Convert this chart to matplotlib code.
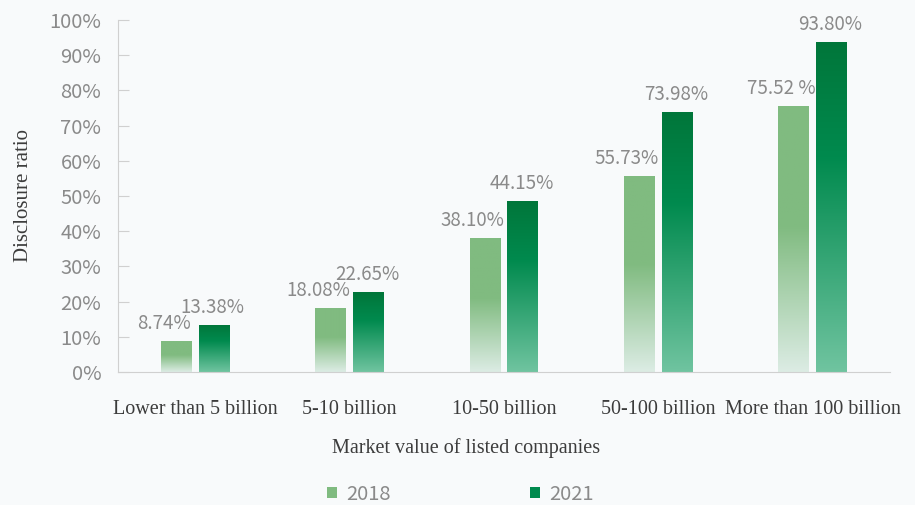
import matplotlib
matplotlib.use("Agg")
import matplotlib.pyplot as plt
import numpy as np
from matplotlib.colors import LinearSegmentedColormap
from matplotlib.patches import Patch

# data
categories = ["Lower than 5 billion", "5-10 billion", "10-50 billion",
              "50-100 billion", "More than 100 billion"]
vals_2018 = [8.74, 18.08, 38.10, 55.73, 75.52]
vals_2021 = [13.38, 22.65, 48.6, 73.98, 93.80]   # 10-50 bar is drawn taller than its label
labels_2018 = ["8.74%", "18.08%", "38.10%", "55.73%", "75.52 %"]
labels_2021 = ["13.38%", "22.65%", "44.15%", "73.98%", "93.80%"]

bg = "#f8fafb"
sans = ["Noto Sans CJK SC", "DejaVu Sans"]
serif = "Liberation Serif"
grey = "#8a8a8a"
dark = "#3c3c3c"

cmap18 = LinearSegmentedColormap.from_list("c18", [(0, "#dcece4"), (0.55, "#80bb80"), (1, "#80bb80")])
cmap21 = LinearSegmentedColormap.from_list("c21", [(0, "#70c4a0"), (0.65, "#008a4e"), (1, "#00763a")])

fig = plt.figure(figsize=(9.15, 5.05), dpi=100, facecolor=bg)
ax = fig.add_axes([118/915, 1-372/505, (890-118)/915, (372-20)/505])
ax.set_facecolor(bg)

x = np.arange(len(categories))
w = 0.2
off = 0.1225

bars18 = ax.bar(x - off, vals_2018, w, color="none", zorder=2)
bars21 = ax.bar(x + off, vals_2021, w, color="none", zorder=2)

# vertical gradient inside each bar
grad = np.linspace(1, 0, 256).reshape(-1, 1)
for bars, cm in ((bars18, cmap18), (bars21, cmap21)):
    for b in bars:
        x0, y0 = b.get_x(), b.get_y()
        im = ax.imshow(grad, cmap=cm, vmin=0, vmax=1, aspect="auto",
                       extent=[x0, x0 + b.get_width(), y0, y0 + b.get_height()],
                       origin="upper", zorder=2)
        im.set_clip_path(b)

for b, t in zip(bars18, labels_2018):
    ax.annotate(t, (b.get_x() + b.get_width()/2, b.get_height()), xytext=(-9, 5),
                textcoords="offset points", ha="center", va="bottom",
                fontsize=13.5, color=grey, family=sans)
for b, t in zip(bars21, labels_2021):
    ax.annotate(t, (b.get_x() + b.get_width()/2, b.get_height()), xytext=(-1, 5),
                textcoords="offset points", ha="center", va="bottom",
                fontsize=13.5, color=grey, family=sans)

ax.set_xlim(-0.5, len(categories) - 0.5)
ax.set_ylim(0, 100)
ax.set_yticks(np.arange(0, 101, 10))
ax.set_yticklabels([f"{v}%" for v in range(0, 101, 10)], family=sans,
                   fontsize=14.5, color=grey)
ax.tick_params(axis="y", direction="in", length=8, color="#d0d0d0", pad=12)
ax.set_xticks(x)
ax.set_xticklabels(categories, family=serif, fontsize=14.5, color=dark)
ax.tick_params(axis="x", length=0, pad=20)

for s in ("top", "right"):
    ax.spines[s].set_visible(False)
for s in ("left", "bottom"):
    ax.spines[s].set_color("#d0d0d0")

ax.set_ylabel("Disclosure ratio", family=serif, fontsize=15, color=dark, labelpad=12)
fig.text(466/915, 1-448/505, "Market value of listed companies", family=serif,
         fontsize=14.5, color=dark, ha="center", va="center")

handles = [Patch(facecolor="#80bb80", label="2018"), Patch(facecolor="#008a4e", label="2021")]
leg = fig.legend(handles=handles, loc="center", bbox_to_anchor=(0.503, 0.021), ncol=2,
                 frameon=False, handlelength=0.5, handleheight=0.5, handletextpad=0.45,
                 columnspacing=6.95, prop={"family": sans, "size": 14.5})
for t in leg.get_texts():
    t.set_color(grey)

fig.savefig("out.png", dpi=100, facecolor=bg)
